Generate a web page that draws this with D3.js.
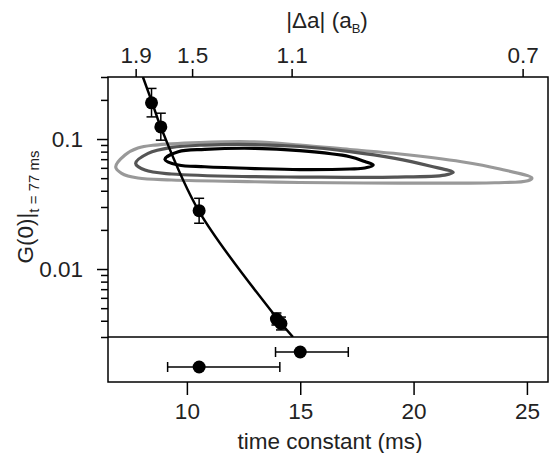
<!DOCTYPE html>
<meta charset="utf-8">
<title>Time constant</title>
<style>
body { margin: 0; background: #fff; }
text { font-family: 'Liberation Sans', Arial, sans-serif; fill: #222; }
.axis .domain { display: none; }
.axis .tick line { stroke: #000; stroke-width: 1.5; }
.axis .tick text { font-size: 22.5px; fill: #222; }
</style>
<body>
<svg width="550" height="453"></svg>
<script src="https://d3js.org/d3.v7.min.js"></script>
<script>
// ---- data ----
// fitted points: time constant (ms) and G(0) with lower / upper error ends
var tauPts = [8.44, 8.85, 10.54, 13.95, 14.15];
var gPts   = [0.190, 0.124, 0.0281, 0.00412, 0.00381];
var gLow   = [0.148, 0.098, 0.0225, 0.00371, 0.00340];
var gHigh  = [0.245, 0.158, 0.035, 0.00459, 0.00427];

// fit curve (bends slightly on the log axis)
var fitTau = [8.06, 8.46, 8.85, 10.53, 13.97, 14.68];
var fitG   = [0.3, 0.1926, 0.1237, 0.0279, 0.0042, 0.003];

// lower panel: two time-constant estimates with horizontal error bars
var rowNames = ["a", "b"];
var rowTau   = [15.0, 10.54];
var rowLo    = [13.91, 9.15];
var rowHi    = [17.12, 14.10];

// top axis: |delta a| ticks and where they sit in time constant
var daTicks = [1.9, 1.5, 1.1, 0.7];
var daTau   = [7.74, 10.23, 14.62, 24.81];

var xTicks = [10, 15, 20, 25];

// confidence contours, [tau, G] going round each loop
var contourOuter = [[6.86,0.0609],[7.27,0.0753],[7.84,0.0852],[8.59,0.0899],[10.57,0.094],[12.78,0.0953],
  [14.98,0.0899],[17.19,0.0830],[19.40,0.0767],[22.12,0.0669],[23.81,0.0588],[25.22,0.0501],
  [25.04,0.0478],[23.59,0.0461],[19.40,0.0458],[14.98,0.0463],[13.0,0.0469],[9.33,0.0484],
  [7.84,0.0501],[7.12,0.0545]];
var contourMiddle = [[7.74,0.0650],[8.29,0.0776],[9.33,0.0863],[10.79,0.0899],[13.0,0.0907],[14.98,0.0876],
  [17.19,0.0801],[19.18,0.0710],[20.72,0.0620],[21.75,0.0554],[21.38,0.0528],[19.18,0.0509],
  [14.98,0.0510],[13.0,0.0513],[9.33,0.0538],[8.15,0.0577]];
var contourInner = [[9.03,0.0698],[9.62,0.0799],[10.79,0.0833],[13.0,0.0848],[14.98,0.0813],[17.19,0.0731],
  [17.85,0.0671],[18.22,0.0631],[17.85,0.0598],[17.19,0.0588],[14.98,0.0582],[13.0,0.0593],
  [10.79,0.0612],[9.62,0.0631]];
var contours = [
  {pts: contourOuter, color: "#999999"},
  {pts: contourMiddle, color: "#555555"},
  {pts: contourInner, color: "#000000"}
];

// ---- layout ----
var svg = d3.select("svg"),
    pLeft = 108, pRight = 548, pTop = 77, pMid = 337, pBottom = 382;

var x = d3.scaleLinear().domain([6.52, 25.93]).range([pLeft, pRight]);
var y = d3.scaleLog().domain([0.003, 0.3]).range([pMid, pTop]);
var yRow = d3.scalePoint().domain(rowNames).range([pMid, pBottom]).padding(1);
var xTop = d3.scaleLinear().domain(daTicks).range(daTau.map(function(t) { return x(t); }));

function isDecade(d) {
  return Math.abs(Math.log10(d) - Math.round(Math.log10(d))) < 1e-6;
}

svg.append("clipPath").attr("id", "mainclip")
  .append("rect").attr("x", pLeft).attr("y", pTop).attr("width", pRight - pLeft).attr("height", pMid - pTop);

var g = svg.append("g").attr("clip-path", "url(#mainclip)");

// contours
var loop = d3.line()
  .x(function(d) { return x(d[0]); })
  .y(function(d) { return y(d[1]); })
  .curve(d3.curveCatmullRomClosed.alpha(0.5));

g.selectAll("path.contour")
  .data(contours)
  .enter().append("path")
    .attr("class", "contour")
    .attr("d", function(d) { return loop(d.pts); })
    .attr("fill", "none")
    .attr("stroke", function(d) { return d.color; })
    .attr("stroke-width", 3.2);

// fit line
var fitData = fitTau.map(function(t, i) { return [t, fitG[i]]; });
g.append("path")
  .attr("d", d3.line()
    .x(function(d) { return x(d[0]); })
    .y(function(d) { return y(d[1]); })
    .curve(d3.curveCatmullRom.alpha(0.5))(fitData))
  .attr("stroke", "#000")
  .attr("stroke-width", 2.5)
  .attr("fill", "none");

// error bars + points, main panel
var pts = tauPts.map(function(t, i) { return {t: t, g: gPts[i], lo: gLow[i], hi: gHigh[i]}; });
var eb = g.selectAll("g.eb").data(pts).enter().append("g").attr("class", "eb")
  .attr("stroke", "#000").attr("stroke-width", 1.5);
eb.append("line")
  .attr("x1", function(d) { return x(d.t); }).attr("x2", function(d) { return x(d.t); })
  .attr("y1", function(d) { return y(d.lo); }).attr("y2", function(d) { return y(d.hi); });
eb.append("line")
  .attr("x1", function(d) { return x(d.t) - 5; }).attr("x2", function(d) { return x(d.t) + 5; })
  .attr("y1", function(d) { return y(d.lo); }).attr("y2", function(d) { return y(d.lo); });
eb.append("line")
  .attr("x1", function(d) { return x(d.t) - 5; }).attr("x2", function(d) { return x(d.t) + 5; })
  .attr("y1", function(d) { return y(d.hi); }).attr("y2", function(d) { return y(d.hi); });
g.selectAll("circle").data(pts).enter().append("circle")
  .attr("cx", function(d) { return x(d.t); })
  .attr("cy", function(d) { return y(d.g); })
  .attr("r", 6.5)
  .attr("fill", "#000");

// lower panel
var rows = rowNames.map(function(n, i) { return {n: n, t: rowTau[i], lo: rowLo[i], hi: rowHi[i]}; });
var rb = svg.selectAll("g.rb").data(rows).enter().append("g").attr("class", "rb")
  .attr("stroke", "#000").attr("stroke-width", 1.5);
rb.append("line")
  .attr("x1", function(d) { return x(d.lo); }).attr("x2", function(d) { return x(d.hi); })
  .attr("y1", function(d) { return yRow(d.n); }).attr("y2", function(d) { return yRow(d.n); });
rb.append("line")
  .attr("x1", function(d) { return x(d.lo); }).attr("x2", function(d) { return x(d.lo); })
  .attr("y1", function(d) { return yRow(d.n) - 5; }).attr("y2", function(d) { return yRow(d.n) + 5; });
rb.append("line")
  .attr("x1", function(d) { return x(d.hi); }).attr("x2", function(d) { return x(d.hi); })
  .attr("y1", function(d) { return yRow(d.n) - 5; }).attr("y2", function(d) { return yRow(d.n) + 5; });
svg.selectAll("circle.row").data(rows).enter().append("circle")
  .attr("class", "row")
  .attr("cx", function(d) { return x(d.t); })
  .attr("cy", function(d) { return yRow(d.n); })
  .attr("r", 6.5)
  .attr("fill", "#000");

// frame + divider
svg.append("rect")
  .attr("x", pLeft).attr("y", pTop).attr("width", pRight - pLeft).attr("height", pBottom - pTop)
  .attr("fill", "none").attr("stroke", "#000").attr("stroke-width", 1.5);
svg.append("line")
  .attr("x1", pLeft).attr("x2", pRight).attr("y1", pMid).attr("y2", pMid)
  .attr("stroke", "#000").attr("stroke-width", 1.5);

// bottom axis
svg.append("g").attr("class", "axis")
  .attr("transform", "translate(0," + pBottom + ")")
  .call(d3.axisBottom(x).tickValues(xTicks).tickSize(13).tickPadding(8));

// top axis
svg.append("g").attr("class", "axis")
  .attr("transform", "translate(0," + pTop + ")")
  .call(d3.axisTop(xTop).tickValues(daTicks).tickFormat(d3.format(".1f")).tickSize(8).tickPadding(6));

// left axis, log ticks: labelled decades, short minor ticks
var yAxis = svg.append("g").attr("class", "axis")
  .attr("transform", "translate(" + pLeft + ",0)")
  .call(d3.axisLeft(y).tickValues(y.ticks()).tickSize(8).tickPadding(17)
    .tickFormat(function(d) { return isDecade(d) ? d3.format("")(d) : ""; }));
yAxis.selectAll(".tick line")
  .attr("x2", function(d) { return isDecade(d) ? -11 : -7; });

// axis titles
svg.append("text")
  .attr("x", (pLeft + pRight) / 2 + 2).attr("y", 449)
  .attr("text-anchor", "middle").attr("font-size", 22.5)
  .text("time constant (ms)");

var tt = svg.append("text")
  .attr("x", 327).attr("y", 28)
  .attr("text-anchor", "middle").attr("font-size", 22.5);
tt.append("tspan").text("|\u0394a| (a");
tt.append("tspan").attr("font-size", 13).attr("dy", 5).text("B");
tt.append("tspan").attr("dy", -5).text(")");

var yt = svg.append("text")
  .attr("transform", "translate(33," + ((pTop + pMid) / 2) + ") rotate(-90)")
  .attr("text-anchor", "middle").attr("font-size", 22.5);
yt.append("tspan").text("G(0)|");
yt.append("tspan").attr("font-size", 15).attr("dy", 6).text("t = 77 ms");
</script>
</body>
